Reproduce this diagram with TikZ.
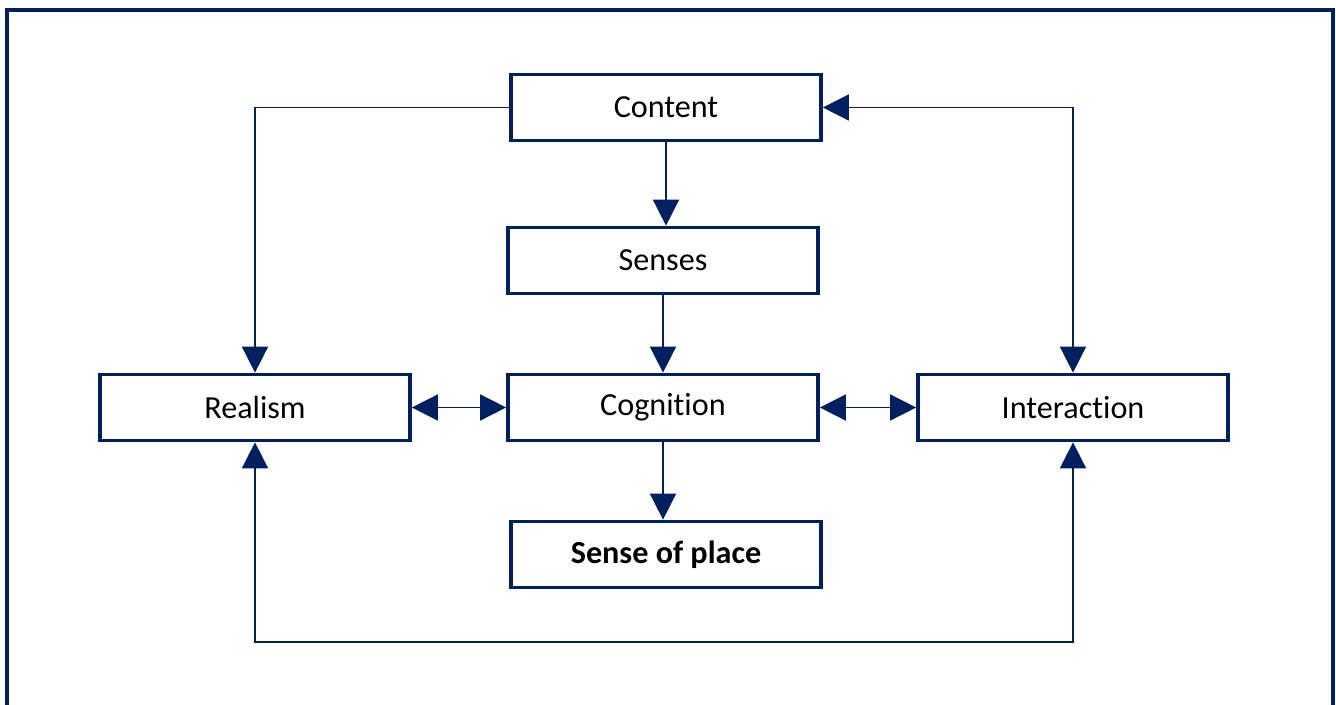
\documentclass[tikz,border=0pt]{standalone}
\usepackage{fontspec}
\setmainfont[Ligatures={NoCommon}]{Carlito}
\usetikzlibrary{arrows.meta}
\definecolor{navy}{HTML}{002060}
\tikzset{
  box/.style={draw=navy, line width=2.1pt, fill=white, minimum width=6.2cm, minimum height=1.32cm, inner sep=0pt, font=\fontsize{18.3}{22}\selectfont},
  conn/.style={draw=navy, line width=0.9pt, arrows={-Triangle[length=0.52cm,width=0.52cm]}},
  dconn/.style={draw=navy, line width=0.9pt, arrows={Triangle[length=0.52cm,width=0.52cm]-Triangle[length=0.52cm,width=0.52cm]}},
  plain/.style={draw=navy, line width=0.9pt}
}
\begin{document}
\begin{tikzpicture}
\useasboundingbox (0,0) rectangle (26.72,-14.08);
\draw[navy, line width=2.6pt] (0.14,-14.2) -- (0.14,-0.2) -- (26.66,-0.2) -- (26.66,-14.2);
\node[box] (content) at (13.32,-2.15) {Content};
\node[box] (senses) at (13.26,-5.21) {Senses};
\node[box] (cognition) at (13.26,-8.15) {Cognition};
\node[box] (realism) at (5.1,-8.15) {Realism};
\node[box] (interaction) at (21.46,-8.15) {Interaction};
\node[box] (place) at (13.32,-11.09) {\bfseries Sense of place};
\coordinate (bot) at (0,-12.84);
\draw[conn] (content.west) -| (realism.north);
\draw[dconn] (content.east) -| (interaction.north);
\draw[conn] (content.south) -- (content.south |- senses.north);
\draw[conn] (senses.south) -- (senses.south |- cognition.north);
\draw[conn] (cognition.south) -- (cognition.south |- place.north);
\draw[dconn] (realism.east) -- (cognition.west);
\draw[dconn] (cognition.east) -- (interaction.west);
\draw[dconn] (realism.south) -- (realism.south |- bot) -- (interaction.south |- bot) -- (interaction.south);
\end{tikzpicture}
\end{document}
